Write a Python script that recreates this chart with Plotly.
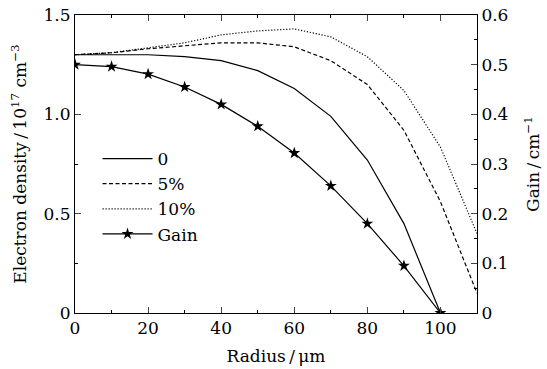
import plotly.graph_objects as go

radius = [0, 10, 20, 30, 40, 50, 60, 70, 80, 90, 100, 110]
density_0 = [1.30, 1.30, 1.30, 1.29, 1.27, 1.22, 1.13, 0.99, 0.77, 0.45, 0.0]
density_5 = [1.30, 1.31, 1.33, 1.345, 1.36, 1.36, 1.34, 1.27, 1.15, 0.92, 0.56, 0.10]
density_10 = [1.30, 1.31, 1.335, 1.36, 1.40, 1.42, 1.43, 1.39, 1.29, 1.12, 0.835, 0.40]
gain = [0.50, 0.496, 0.481, 0.455, 0.42, 0.376, 0.322, 0.256, 0.18, 0.095, 0.0]

left_ticks = [0, 0.5, 1.0, 1.5]
left_labels = ["0", "0.5", "1.0", "1.5"]
right_ticks = [0, 0.1, 0.2, 0.3, 0.4, 0.5, 0.6]
right_labels = ["0", "0.1", "0.2", "0.3", "0.4", "0.5", "0.6"]
x_ticks = [0, 20, 40, 60, 80, 100]

FONT = "DejaVu Serif"
FS = 17

fig = go.Figure()
fig.add_trace(go.Scatter(x=radius[:len(density_0)], y=density_0, mode="lines", name="0",
                         line=dict(color="black", width=1.2)))
fig.add_trace(go.Scatter(x=radius[:len(density_5)], y=density_5, mode="lines", name="5%",
                         line=dict(color="black", width=1.2, dash="4px,2.5px")))
fig.add_trace(go.Scatter(x=radius[:len(density_10)], y=density_10, mode="lines", name="10%",
                         line=dict(color="black", width=1.2, dash="1.2px,1.8px")))
fig.add_trace(go.Scatter(x=radius[:len(gain)], y=gain, mode="lines+markers", name="Gain",
                         yaxis="y2",
                         line=dict(color="black", width=1.2),
                         marker=dict(symbol="star", size=9, color="black")))

fig.update_layout(
    width=547, height=369,
    margin=dict(l=75, r=70, t=15, b=56),
    paper_bgcolor="white", plot_bgcolor="white",
    font=dict(family=FONT, size=FS, color="black"),
    showlegend=True,
    legend=dict(x=0.056, y=0.577, xanchor="left", yanchor="top",
                bgcolor="rgba(0,0,0,0)", font=dict(size=FS), tracegroupgap=0,
                itemwidth=50),
    xaxis=dict(range=[0, 110], tickvals=x_ticks, ticks="inside", ticklen=6,
               showline=True, linecolor="black", linewidth=1, mirror="ticks",
               showgrid=False, zeroline=False, automargin=False,
               ticklabeloverflow="allow",
               minor=dict(dtick=10, tick0=0, ticks="inside", ticklen=3, tickcolor="black"),
               title=dict(text="Radius\u2009/\u2009μm", font=dict(size=FS), standoff=12)),
    yaxis=dict(range=[0, 1.5], tickvals=left_ticks, ticktext=left_labels,
               ticks="inside", ticklen=6, showline=True, linecolor="black", linewidth=1,
               showgrid=False, zeroline=False, automargin=False,
               ticklabeloverflow="allow",
               minor=dict(dtick=0.25, tick0=0, ticks="inside", ticklen=3, tickcolor="black"),
               title=dict(text="Electron density\u2009/\u200910<sup>17</sup> cm<sup>−3</sup>",
                          font=dict(size=FS), standoff=12)),
    yaxis2=dict(range=[0, 0.6], tickvals=right_ticks, ticktext=right_labels,
                overlaying="y", side="right",
                ticks="inside", ticklen=6, showline=True, linecolor="black", linewidth=1,
                showgrid=False, zeroline=False, automargin=False,
                ticklabeloverflow="allow",
                minor=dict(dtick=0.05, tick0=0, ticks="inside", ticklen=3, tickcolor="black"),
                title=dict(text="Gain\u2009/\u2009cm<sup>−1</sup>", font=dict(size=FS), standoff=19)),
)

fig.write_html("out.html",
               config={"displayModeBar": False},
               post_script="document.body.style.margin='0';document.body.style.overflow='hidden';")
